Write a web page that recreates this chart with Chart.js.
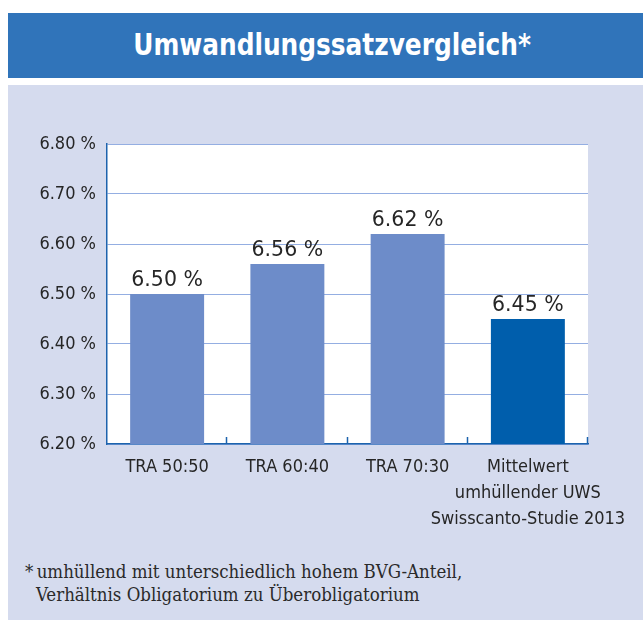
<!DOCTYPE html>
<html>
<head>
<meta charset="utf-8">
<script src="https://cdn.jsdelivr.net/npm/chart.js@4/dist/chart.umd.min.js"></script>
<style>
  html, body { margin: 0; padding: 0; background: #ffffff; width: 643px; height: 620px; overflow: hidden; }
  #banner { position: absolute; left: 8px; top: 13px; width: 635px; height: 65px; background: #3074ba; }
  #title { position: absolute; left: 0; right: 0; top: 14px; text-align: center; color: #ffffff;
           font-family: "DejaVu Sans Condensed", "DejaVu Sans", sans-serif; font-weight: bold; font-size: 30px;
           line-height: 36px; transform: scaleX(0.92); transform-origin: 331px 0; padding-left: 12px; }
  #panel { position: absolute; left: 8px; top: 85px; width: 635px; height: 535px; background: #d5dbee; }
  #wrap { position: absolute; left: 0; top: 0; width: 635px; height: 460px; }
  #note { position: absolute; left: 17px; top: 475px; color: #2a2a2a;
          font-family: "DejaVu Serif Condensed", "DejaVu Serif", serif; font-size: 18.5px; line-height: 23px; }
  #note .ind { padding-left: 11px; }
</style>
</head>
<body>
<div id="banner"><div id="title">Umwandlungssatzvergleich*</div></div>
<div id="panel">
  <div id="wrap"><canvas id="c" width="635" height="460"></canvas></div>
  <div id="note">*&#8201;umhüllend mit unterschiedlich hohem BVG-Anteil,<br><span class="ind">Verhältnis Obligatorium zu Überobligatorium</span></div>
</div>
<script>
const categories = [
  ["TRA 50:50"],
  ["TRA 60:40"],
  ["TRA 70:30"],
  ["Mittelwert", "umhüllender UWS", "Swisscanto-Studie 2013"]
];
const values = [6.50, 6.56, 6.62, 6.45];
const barColors = ["#6d8cc9", "#6d8cc9", "#6d8cc9", "#005eac"];
const yMin = 6.2, yMax = 6.8, yStep = 0.1;

const plotBackground = {
  id: "plotBackground",
  beforeDraw(chart) {
    const a = chart.chartArea;
    const ctx = chart.ctx;
    ctx.save();
    ctx.fillStyle = "#ffffff";
    ctx.fillRect(a.left, a.top, a.right - a.left, a.bottom - a.top);
    ctx.restore();
  }
};

const valueLabels = {
  id: "valueLabels",
  afterDatasetsDraw(chart) {
    const ctx = chart.ctx;
    const meta = chart.getDatasetMeta(0);
    ctx.save();
    ctx.font = "20.5px 'DejaVu Sans', sans-serif";
    ctx.fillStyle = "#262626";
    ctx.textAlign = "center";
    ctx.textBaseline = "alphabetic";
    meta.data.forEach((bar, i) => {
      ctx.fillText(values[i].toFixed(2) + " %", bar.x, bar.y - 8);
    });
    ctx.restore();
  }
};

const innerTicks = {
  id: "innerTicks",
  afterDraw(chart) {
    const x = chart.scales.x;
    const ctx = chart.ctx;
    const n = categories.length;
    const w = (x.right - x.left) / n;
    ctx.save();
    ctx.strokeStyle = "#1d63ad";
    ctx.lineWidth = 1.5;
    ctx.beginPath();
    for (let i = 1; i <= n; i++) {
      const px = Math.round(x.left + i * w) - 0.5;
      ctx.moveTo(px, x.top);
      ctx.lineTo(px, x.top - 7);
    }
    ctx.stroke();
    ctx.restore();
  }
};

new Chart(document.getElementById("c"), {
  type: "bar",
  data: {
    labels: categories,
    datasets: [{
      data: values,
      backgroundColor: barColors,
      borderWidth: 0,
      barPercentage: 0.615,
      categoryPercentage: 1.0
    }]
  },
  options: {
    responsive: false,
    animation: false,
    events: [],
    layout: { padding: { top: 59, right: 55, left: 0, bottom: 0 } },
    plugins: { legend: { display: false }, tooltip: { enabled: false }, title: { display: false } },
    scales: {
      x: {
        offset: true,
        grid: { display: false, drawTicks: false },
        border: { display: true, color: "#1d63ad", width: 1.5 },
        ticks: {
          autoSkip: false, maxRotation: 0, minRotation: 0, padding: 10,
          color: "#262626",
          font: { family: "'DejaVu Sans Condensed', 'DejaVu Sans', sans-serif", size: 18, lineHeight: 1.45 }
        },
        afterFit(scale) { scale.height = 101; }
      },
      y: {
        min: yMin, max: yMax,
        grid: { color: "#94aee2", lineWidth: 1, drawTicks: false },
        border: { display: true, color: "#1d63ad", width: 1.5 },
        ticks: {
          stepSize: yStep, padding: 11, color: "#262626",
          font: { family: "'DejaVu Sans Condensed', 'DejaVu Sans', sans-serif", size: 18 },
          callback: (v) => Number(v).toFixed(2) + " %"
        },
        afterFit(scale) { scale.width = 99; }
      }
    }
  },
  plugins: [plotBackground, valueLabels, innerTicks]
});
</script>
</body>
</html>
